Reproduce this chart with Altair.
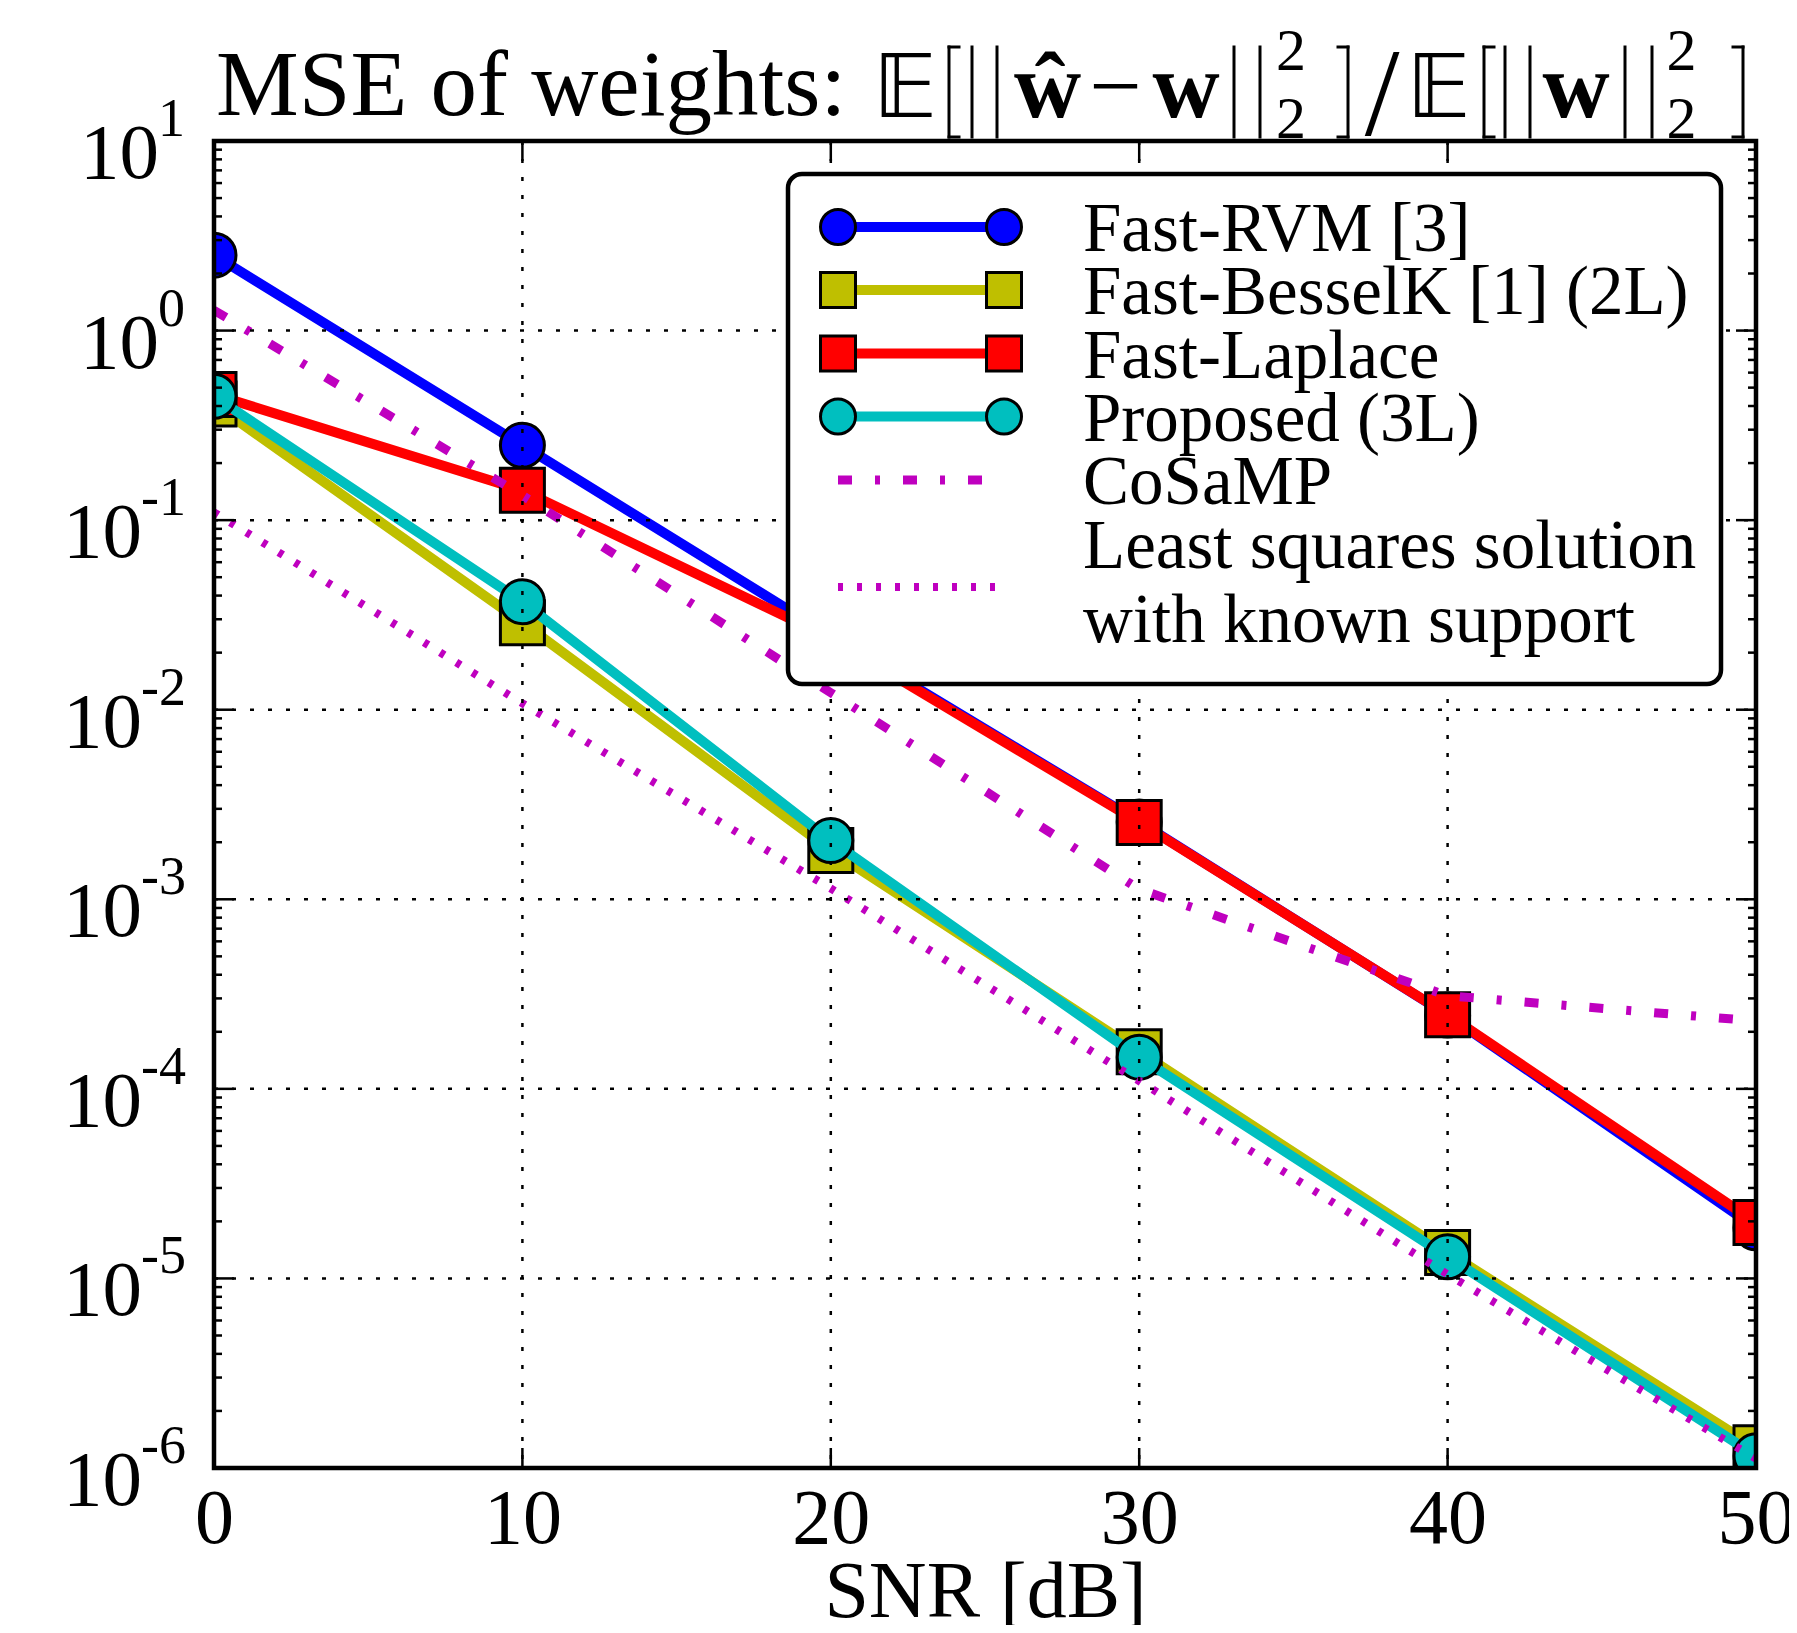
import altair as alt
import pandas as pd

# ---------------- data ----------------
snr = [0, 10, 20, 30, 40, 50]
series_names = [
    "Fast-RVM [3]",
    "Fast-BesselK [1] (2L)",
    "Fast-Laplace",
    "Proposed (3L)",
    "CoSaMP",
    "Least squares solution with known support",
]
legend_lines = [
    ["Fast-RVM [3]"],
    ["Fast-BesselK [1] (2L)"],
    ["Fast-Laplace"],
    ["Proposed (3L)"],
    ["CoSaMP"],
    ["Least squares solution", "with known support"],
]
mse_rvm = [2.50, 0.248, 0.0245, 0.00256, 2.45e-4, 1.85e-5]
mse_besselk = [0.41, 0.0288, 0.00181, 1.57e-4, 1.37e-5, 1.28e-6]
mse_laplace = [0.46, 0.1436, 0.0238, 0.00254, 2.46e-4, 1.97e-5]
mse_proposed = [0.45, 0.0371, 0.00204, 1.47e-4, 1.30e-5, 1.16e-6]
mse_cosamp = [1.28, 0.135, 0.0123, 0.00113, 3.1e-4, 2.28e-4]
mse_ls = [0.110, 0.0108, 0.00114, 1.1e-4, 1.05e-5, 1.12e-6]
series_values = [mse_rvm, mse_besselk, mse_laplace, mse_proposed, mse_cosamp, mse_ls]

x_ticks = [0, 10, 20, 30, 40, 50]
y_exponents = [1, 0, -1, -2, -3, -4, -5, -6]

# ---------------- styles / layout ----------------
SERIF = "Liberation Serif"
W, H = 1542, 1327
colors = ["#0000ff", "#bfbf00", "#ff0000", "#00bfbf", "#bf00bf", "#bf00bf"]
shapes = ["circle", "square", "square", "circle", None, None]
dashes = [None, None, None, None, [14, 23, 5, 23], [5, 14]]
widths = [10, 10, 10, 10, 9, 8]
MARKER = 1936
LEG_MARKER = 1225

xscale = alt.Scale(domain=[0, 50], nice=False, zero=False)
yscale = alt.Scale(type="log", domain=[1e-6, 10], nice=False)
xaxis = alt.Axis(
    values=x_ticks, domain=False, ticks=False, grid=False, format="d",
    labelFont=SERIF, labelFontSize=78, labelColor="black", labelPadding=12,
    labelFlush=False, labelOverlap=False,
    title="SNR [dB]", titleFont=SERIF, titleFontSize=80, titleFontWeight="normal",
    titleColor="black", titleY=148, titleBaseline="alphabetic",
)

layers = []

# data series
for i, name in enumerate(series_names):
    df = pd.DataFrame({"snr": snr, "mse": series_values[i], "series": name})
    base = alt.Chart(df).encode(
        x=alt.X("snr:Q", scale=xscale, axis=xaxis),
        y=alt.Y("mse:Q", scale=yscale, axis=None),
    )
    lkw = dict(color=colors[i], strokeWidth=widths[i], clip=True, strokeCap="butt")
    if dashes[i]:
        lkw["strokeDash"] = dashes[i]
    layers.append(base.mark_line(**lkw))
    if shapes[i]:
        layers.append(base.mark_point(shape=shapes[i], filled=True, fill=colors[i],
                                      stroke="black", strokeWidth=3, size=MARKER,
                                      opacity=1, clip=True))

# grid (drawn above the data, as in the reference)
grid_kw = dict(color="black", strokeWidth=2.5, strokeDash=[4, 14])
xg = pd.DataFrame({"v": x_ticks[1:-1]})
layers.append(alt.Chart(xg).mark_rule(**grid_kw).encode(
    x=alt.X("v:Q", scale=xscale, axis=xaxis), y=alt.value(0), y2=alt.value(H)))
yg = pd.DataFrame({"v": [10.0 ** e for e in y_exponents[1:-1]]})
layers.append(alt.Chart(yg).mark_rule(**grid_kw).encode(
    y=alt.Y("v:Q", scale=yscale, axis=None), x=alt.value(0), x2=alt.value(W)))

# inward ticks
tick_kw = dict(color="black", strokeWidth=2.5)
xt = pd.DataFrame({"v": x_ticks})
for y0, y1 in [(H, H - 20), (0, 20)]:
    layers.append(alt.Chart(xt).mark_rule(**tick_kw).encode(
        x=alt.X("v:Q", scale=xscale, axis=xaxis), y=alt.value(y0), y2=alt.value(y1)))
ymaj = pd.DataFrame({"v": [10.0 ** e for e in y_exponents]})
ymin = pd.DataFrame({"v": [k * 10.0 ** e for e in y_exponents[1:] for k in range(2, 10)]})
for dfv, ln in [(ymaj, 20), (ymin, 8)]:
    for x0, x1 in [(0, ln), (W, W - ln)]:
        layers.append(alt.Chart(dfv).mark_rule(**tick_kw).encode(
            y=alt.Y("v:Q", scale=yscale, axis=None), x=alt.value(x0), x2=alt.value(x1)))

# y tick labels 10^e
ylab = pd.DataFrame({"e": y_exponents})
ylab["v"] = [10.0 ** e for e in y_exponents]
ylab["base"] = "10"
ylab["exp"] = [str(e) for e in y_exponents]
for cond, xe in [(alt.datum.e >= 0, -55), (alt.datum.e < 0, -72)]:
    c = alt.Chart(ylab).transform_filter(cond)
    layers.append(c.mark_text(align="right", baseline="alphabetic", font=SERIF,
                              fontSize=79, dy=37, color="black").encode(
        y=alt.Y("v:Q", scale=yscale, axis=None), x=alt.value(xe), text="base:N"))
    layers.append(c.mark_text(align="left", baseline="alphabetic", font=SERIF,
                              fontSize=54, dy=-5, color="black").encode(
        y=alt.Y("v:Q", scale=yscale, axis=None), x=alt.value(xe - 1), text="exp:N"))

# legend
one = lambda: alt.Data(values=[{"k": 0}])
layers.append(alt.Chart(one()).mark_rect(fill="white", stroke="black", strokeWidth=4.5,
                                         cornerRadius=14).encode(
    x=alt.value(574), x2=alt.value(1507), y=alt.value(33), y2=alt.value(543)))
leg_y = [86, 149, 212.5, 275.5, 339, 446]
for i, name in enumerate(series_names):
    yc = leg_y[i]
    rkw = dict(color=colors[i], strokeWidth=widths[i], strokeCap="butt")
    if dashes[i]:
        rkw["strokeDash"] = dashes[i]
    layers.append(alt.Chart(one()).mark_rule(**rkw).encode(
        x=alt.value(624), x2=alt.value(790), y=alt.value(yc)))
    if shapes[i]:
        for xm in (624, 790):
            layers.append(alt.Chart(one()).mark_point(
                shape=shapes[i], filled=True, fill=colors[i], stroke="black",
                strokeWidth=3, size=LEG_MARKER, opacity=1).encode(
                x=alt.value(xm), y=alt.value(yc)))
    lines = legend_lines[i]
    if len(lines) == 1:
        basel = [yc + 24]
    else:
        basel = [yc - 19, yc + 55]
    for txt, yb in zip(lines, basel):
        layers.append(alt.Chart(alt.Data(values=[{"t": txt}])).mark_text(
            align="left", baseline="alphabetic", font=SERIF, fontSize=69,
            color="black").encode(x=alt.value(869), y=alt.value(yb), text="t:N"))

# frame on top
layers.append(alt.Chart(one()).mark_rect(fillOpacity=0, stroke="black", strokeWidth=4.5).encode(
    x=alt.value(0), x2=alt.value(W), y=alt.value(0), y2=alt.value(H)))

# title, composed of pieces:  MSE of weights: E[||w^ - w||_2^2]/E[||w||_2^2]
pieces = [
    ("MSE of weights:", 2, -26, 93, "normal", SERIF, "left"),
    ("\U0001D53C", 691, -24, 88, "normal", "DejaVu Sans", "center"),
    ("\u0175", 833.5, -24, 93, "bold", SERIF, "center"),
    ("\u2212", 901.5, -24, 93, "normal", SERIF, "center"),
    ("w", 972, -24, 93, "bold", SERIF, "center"),
    ("2", 1077, -71, 60, "normal", SERIF, "center"),
    ("2", 1077, -3, 60, "normal", SERIF, "center"),
    ("/", 1168, -6, 125, "normal", SERIF, "center"),
    ("\U0001D53C", 1224.5, -24, 88, "normal", "DejaVu Sans", "center"),
    ("w", 1362, -24, 93, "bold", SERIF, "center"),
    ("2", 1467.5, -71, 60, "normal", SERIF, "center"),
    ("2", 1467.5, -3, 60, "normal", SERIF, "center"),
]
for txt, px, py, fs, fw, fnt, al in pieces:
    layers.append(alt.Chart(alt.Data(values=[{"t": txt}])).mark_text(
        align=al, baseline="alphabetic", font=fnt, fontSize=fs, fontWeight=fw,
        color="black").encode(x=alt.value(px), y=alt.value(py), text="t:N"))

# tall delimiters of the title formula (brackets and norm bars)
TOP, BOT = -94, -4
segs = []
for bx, d in [(735, 1), (1270, 1), (1134, -1), (1529, -1)]:   # [ ... ] brackets
    segs += [(bx, TOP, bx, BOT), (bx, TOP, bx + 10 * d, TOP), (bx, BOT, bx + 10 * d, BOT)]
for bx in [758, 783, 1020, 1046, 1291, 1316, 1411, 1438]:        # || bars
    segs.append((bx, TOP, bx, BOT))
for x1, y1, x2, y2 in segs:
    layers.append(alt.Chart(one()).mark_rule(color="black", strokeWidth=3,
                                             strokeCap="square").encode(
        x=alt.value(x1), y=alt.value(y1), x2=alt.value(x2), y2=alt.value(y2)))

chart = alt.layer(*layers).properties(
    width=W, height=H,
    autosize=alt.AutoSizeParams(type="none"),
    padding={"left": 206, "top": 133, "right": 33, "bottom": 157},
).configure_view(stroke=None)

chart.save("out.html", embed_options={"renderer": "svg", "actions": False})
